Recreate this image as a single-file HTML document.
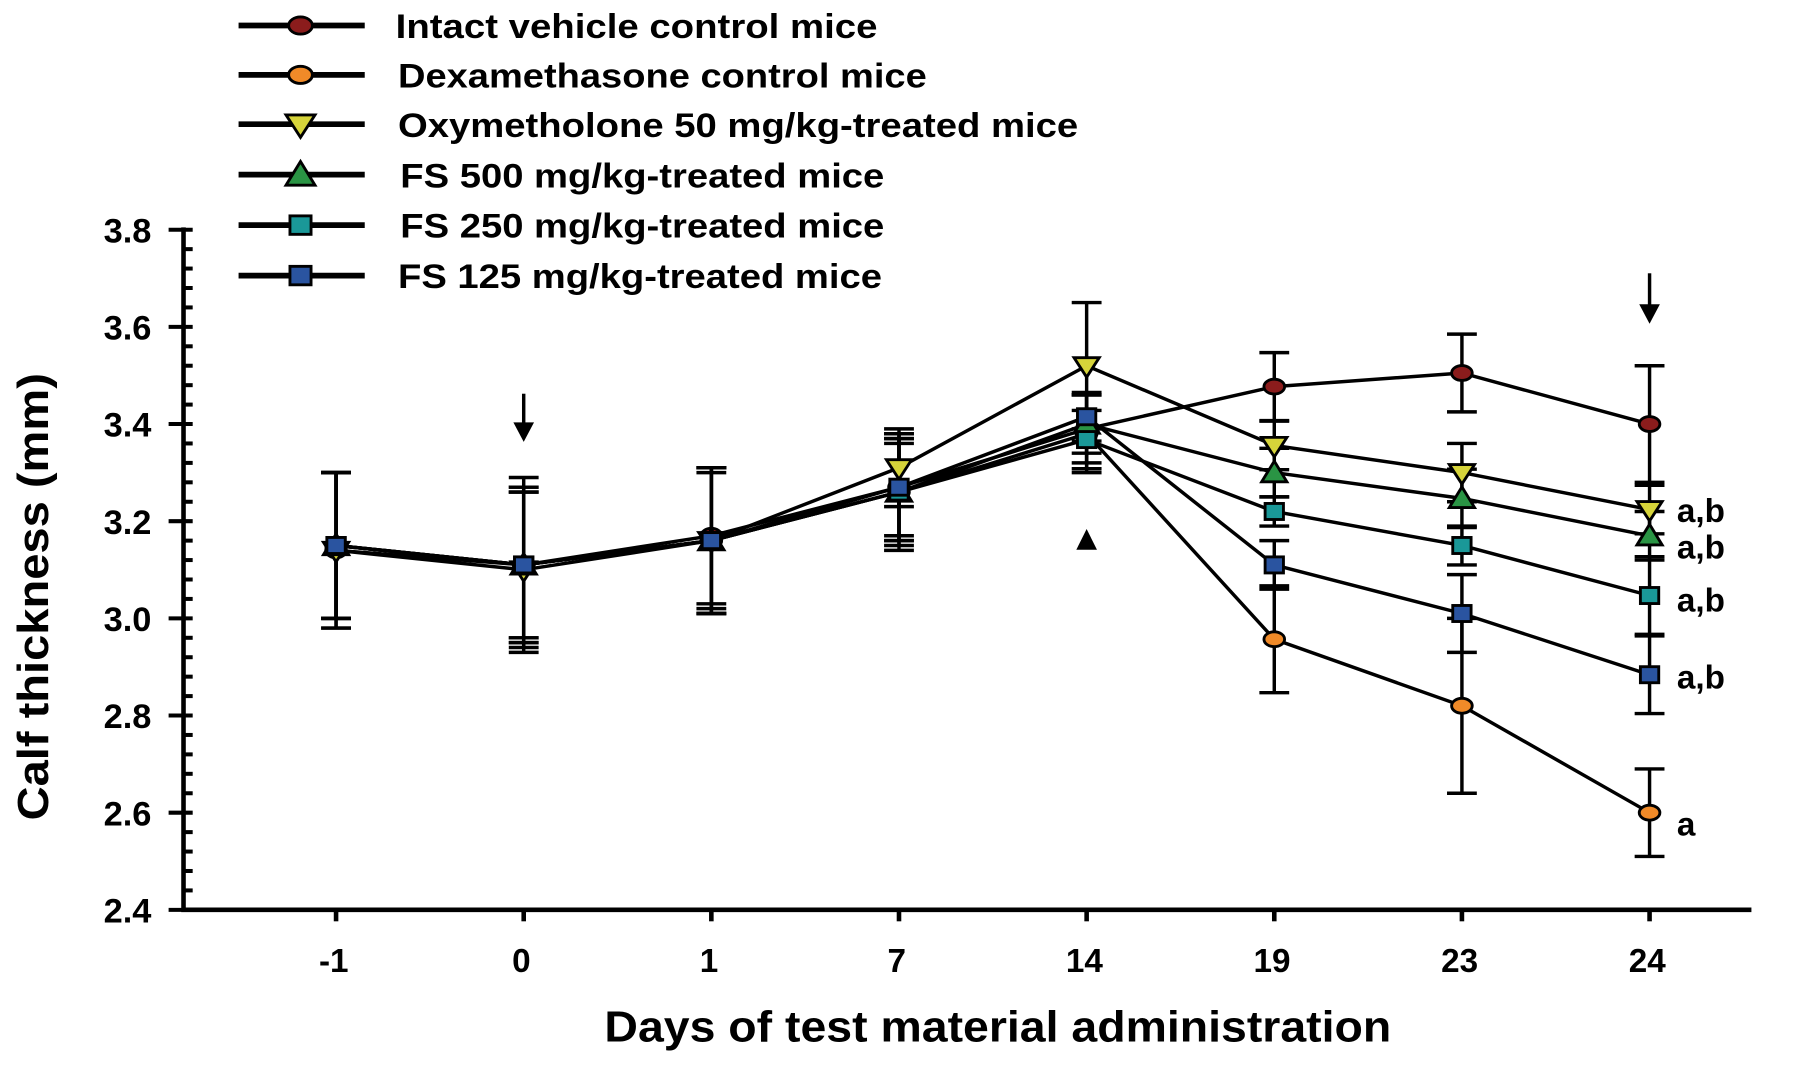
<!DOCTYPE html>
<html><head><meta charset="utf-8"><style>
html,body{margin:0;padding:0;background:#fff;}
svg{display:block;font-family:"Liberation Sans",Arial,sans-serif;font-weight:bold;}
</style></head><body>
<svg id="chart" width="1795" height="1065" viewBox="0 0 1565 928" xmlns="http://www.w3.org/2000/svg"></svg>
<script>
const categories = ["-1","0","1","7","14","19","23","24"];
const yTicks = [2.4,2.6,2.8,3.0,3.2,3.4,3.6,3.8];
const seriesNames = ["Intact vehicle control mice","Dexamethasone control mice","Oxymetholone 50 mg/kg-treated mice","FS 500 mg/kg-treated mice","FS 250 mg/kg-treated mice","FS 125 mg/kg-treated mice"];
const intactValues = [3.15,3.11,3.17,3.27,3.39,3.477,3.505,3.40];
const intactErr    = [0.15,0.15,0.14,0.10,0.07,0.07,0.08,0.12];
const dexValues    = [3.14,3.11,3.16,3.26,3.38,2.957,2.82,2.60];
const dexErr       = [0.16,0.18,0.15,0.12,0.08,0.11,0.18,0.09];
const oxyValues    = [3.14,3.10,3.16,3.31,3.52,3.356,3.30,3.224];
const oxyErr       = [0.16,0.16,0.15,0.08,0.13,0.05,0.06,0.05];
const fs500Values  = [3.15,3.11,3.16,3.26,3.40,3.30,3.247,3.17];
const fs500Err     = [0.15,0.15,0.14,0.11,0.06,0.05,0.06,0.05];
const fs250Values  = [3.15,3.11,3.16,3.26,3.368,3.22,3.15,3.047];
const fs250Err     = [0.15,0.16,0.15,0.10,0.06,0.03,0.04,0.08];
const fs125Values  = [3.15,3.11,3.16,3.27,3.415,3.11,3.01,2.884];
const fs125Err     = [0.15,0.16,0.15,0.11,0.05,0.05,0.08,0.08];
const annotations  = ["a,b","a,b","a,b","a,b","a"];

const S = document.getElementById('chart');
const NS = 'http://www.w3.org/2000/svg';
function el(tag, attrs, parent){const e=document.createElementNS(NS,tag);for(const k in attrs)e.setAttribute(k,attrs[k]);(parent||S).appendChild(e);return e;}
const X0=160, Y0=793, Ytop=200;
function xPos(i){return 293 + i*163.6;}
function yPos(v){return Y0 - (v-2.4)/(1.4)*(Y0-Ytop);}

const ax = el('path',{d:`M${X0} ${Ytop-2}V${Y0}H1527`,stroke:'#000','stroke-width':4,fill:'none'});


for(let v=2.4; v<=3.8001; v+=0.04){
  const y=yPos(v); const major=Math.abs((v*10)%2)<0.01||Math.abs((v*10)%2-2)<0.01;
  const t=el('line',{x1:major?X0-13:X0,x2:X0+8,y1:y,y2:y,stroke:'#000','stroke-width':3.5});
  
  
}
yTicks.forEach(v=>{
  const t=el('text',{x:132,y:yPos(v)+11,'text-anchor':'end','font-size':30});
  t.textContent=v.toFixed(1);
  
  
});
categories.forEach((c,i)=>{
  const tk=el('line',{x1:xPos(i),x2:xPos(i),y1:Y0,y2:Y0+10,stroke:'#000','stroke-width':4});
  
  
  const t=el('text',{x:xPos(i)-2,y:847,'text-anchor':'middle','font-size':29});
  t.textContent=c;
  
  
});
const yt=el('text',{x:0,y:0,'text-anchor':'middle','font-size':38,textLength:390,lengthAdjust:'spacingAndGlyphs',transform:'translate(42,520) rotate(-90)'});
yt.textContent='Calf thickness (mm)';


const xt=el('text',{x:870,y:908,'text-anchor':'middle','font-size':38,textLength:686,lengthAdjust:'spacingAndGlyphs'});
xt.textContent='Days of test material administration';



const series=[
 {v:intactValues,e:intactErr,c:'#8b1c1c',m:'circle'},
 {v:dexValues,e:dexErr,c:'#f08a28',m:'circle'},
 {v:oxyValues,e:oxyErr,c:'#d6d43a',m:'down'},
 {v:fs500Values,e:fs500Err,c:'#2a9444',m:'up'},
 {v:fs250Values,e:fs250Err,c:'#1a9898',m:'square'},
 {v:fs125Values,e:fs125Err,c:'#2a54a0',m:'square'}];
const keys=['intact','dexamethasone','oxymetholone','fs500','fs250','fs125'];

function marker(type,x,y,c,g,big){
  const k=big?1.15:1;
  if(type==='circle') return el('ellipse',{cx:x,cy:y,rx:9*k,ry:6.5*k,fill:c,stroke:'#000','stroke-width':2.5},g);
  if(type==='down') return el('path',{d:`M${x-11*k} ${y-7*k}H${x+11*k}L${x} ${y+10*k}Z`,fill:c,stroke:'#000','stroke-width':2.5},g);
  if(type==='up') return el('path',{d:`M${x-11*k} ${y+8*k}H${x+11*k}L${x} ${y-10*k}Z`,fill:c,stroke:'#000','stroke-width':2.5},g);
  return el('rect',{x:x-8*k,y:y-7*k,width:16*k,height:14*k,fill:c,stroke:'#000','stroke-width':2.5},g);
}
series.forEach((s,si)=>{
  const g=el('g',{});
  
  
  s.v.forEach((v,i)=>{
    const x=xPos(i), yt=yPos(v+s.e[i]), yb=yPos(v-s.e[i]);
    el('line',{x1:x,x2:x,y1:yt,y2:yb,stroke:'#000','stroke-width':3},g);
    el('line',{x1:x-13,x2:x+13,y1:yt,y2:yt,stroke:'#000','stroke-width':3},g);
    el('line',{x1:x-13,x2:x+13,y1:yb,y2:yb,stroke:'#000','stroke-width':3},g);
  });
});
series.forEach((s,si)=>{
  const p=el('polyline',{points:s.v.map((v,i)=>xPos(i)+','+yPos(v)).join(' '),fill:'none',stroke:'#000','stroke-width':3});
  
  
});
series.forEach((s,si)=>{
  const g=el('g',{});
  
  
  s.v.forEach((v,i)=>{
    const m=marker(s.m,xPos(i),yPos(v),s.c,g);
    
    
  });
});
[2,3,4,5,1].forEach((si,k)=>{
  const v=series[si].v[7];
  const off=[11,20,14,12,20][k];
  const t=el('text',{x:1462,y:yPos(v)+off,'font-size':29});
  t.textContent=annotations[k];
  
  
});
[[1,343,385],[7,238,282]].forEach(([i,y1,y2])=>{
  const g=el('g',{});
  
  
  el('line',{x1:xPos(i),x2:xPos(i),y1:y1,y2:y2-12,stroke:'#000','stroke-width':3},g);
  el('path',{d:`M${xPos(i)-9} ${y2-17}H${xPos(i)+9}L${xPos(i)} ${y2}Z`,fill:'#000'},g);
});
const tri=el('path',{d:`M${xPos(4)-9} 479H${xPos(4)+9}L${xPos(4)} 461Z`,fill:'#000'});



const legendY=[22,65,108,152,196,240];
const legendX=[345,347,347,349,349,347];
const legendW=[420,461,593,422,422,422];
seriesNames.forEach((n,i)=>{
  const g=el('g',{});
  
  
  el('line',{x1:208,x2:318,y1:legendY[i],y2:legendY[i],stroke:'#000','stroke-width':5},g);
  marker(series[i].m,262,legendY[i],series[i].c,g,true);
  const t=el('text',{x:legendX[i],y:legendY[i]+11,'font-size':30,textLength:legendW[i],lengthAdjust:'spacingAndGlyphs'},g);
  t.textContent=n;
});
</script>
</body></html>
